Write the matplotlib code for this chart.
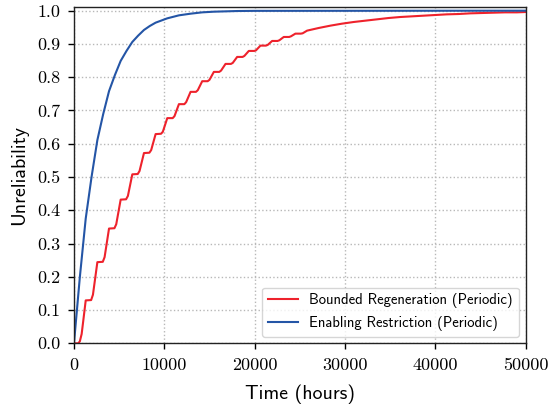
import matplotlib
matplotlib.use('Agg')
import matplotlib.pyplot as plt

# 数据：点（时间 / 不可靠度）
red_t = [0, 480, 650, 850, 1030,
         1300, 1900, 2100, 2590, 3190, 3390, 3880, 4480, 4680,
         5170, 5770, 5970, 6460, 7060, 7260, 7750, 8350, 8550,
         9040, 9640, 9840, 10330, 10930, 11130, 11620, 12220, 12420,
         12910, 13510, 13710, 14200, 14800, 15000, 15490, 16090, 16290,
         16780, 17380, 17580, 18070, 18670, 18870, 19360, 19960, 20160,
         20650, 21250, 21450, 21940, 22540, 22740, 23230, 23830, 24030,
         24520, 25120, 25320, 25810, 27100, 28390, 29680, 30970, 32260,
         33550, 34840, 36130, 37420, 38710, 40000, 41290, 42580, 43870,
         45160, 46450, 47740, 49030, 50000]
red_y = [0.0, 0.0, 0.006, 0.028, 0.068,
         0.129, 0.130, 0.146, 0.244, 0.245, 0.259, 0.345, 0.346, 0.358,
         0.432, 0.433, 0.443, 0.508, 0.509, 0.518, 0.572, 0.573, 0.581,
         0.629, 0.630, 0.636, 0.677, 0.677, 0.683, 0.719, 0.719, 0.725,
         0.756, 0.756, 0.761, 0.788, 0.788, 0.792, 0.816, 0.816, 0.820,
         0.840, 0.840, 0.843, 0.861, 0.861, 0.864, 0.879, 0.879, 0.881,
         0.895, 0.895, 0.897, 0.909, 0.909, 0.911, 0.921, 0.921, 0.923,
         0.931, 0.931, 0.932, 0.940, 0.948, 0.955, 0.961, 0.966, 0.970,
         0.974, 0.978, 0.981, 0.983, 0.985, 0.987, 0.989, 0.990, 0.992,
         0.993, 0.994, 0.995, 0.995, 0.996]

blue_t = [0, 650, 1300, 1945, 2590, 3235, 3880, 4525, 5170, 5815,
          6460, 7105, 7750, 8395, 9040, 10330, 11620, 12910, 14200,
          15490, 16780, 18070, 20000, 50000]
blue_y = [0.0, 0.199, 0.375, 0.500, 0.611, 0.689, 0.758, 0.806, 0.849, 0.879,
          0.906, 0.925, 0.942, 0.954, 0.964, 0.977, 0.986, 0.991, 0.995,
          0.997, 0.998, 0.999, 0.9995, 1.0]

x_ticks = [0, 10000, 20000, 30000, 40000, 50000]
y_ticks = [0.0, 0.1, 0.2, 0.3, 0.4, 0.5, 0.6, 0.7, 0.8, 0.9, 1.0]

plt.rcParams['axes.formatter.use_mathtext'] = True

fig = plt.figure(figsize=(5.5, 4.09), dpi=100)
ax = fig.add_axes([0.1345, 0.1606, 0.821, 0.8214])

ax.plot(red_t, red_y, color='#ee222c', linewidth=1.5, label='Bounded Regeneration (Periodic)')
ax.plot(blue_t, blue_y, color='#2455a6', linewidth=1.5, label='Enabling Restriction (Periodic)')

ax.set_xlim(0, 50000)
ax.set_ylim(0, 1.01)
ax.set_xticks(x_ticks)
ax.set_yticks(y_ticks)
ax.set_xticklabels([str(v) for v in x_ticks])
ax.set_yticklabels([f'{v:.1f}' for v in y_ticks])

ax.grid(True, linestyle=':', color='#b8b8b8', linewidth=1.0)
ax.tick_params(direction='out', length=4.5, width=1.0, labelsize=13,
               labelfontfamily='cmr10', color='black', pad=5.5)
for s in ax.spines.values():
    s.set_linewidth(1.0)
    s.set_color('#222222')

ax.set_xlabel('Time (hours)', fontfamily='cmss10', fontsize=14.3, labelpad=8.5)
ax.set_ylabel('Unreliability', fontfamily='cmss10', fontsize=14.3, labelpad=6)

leg = ax.legend(loc='lower right', prop={'family': 'cmss10', 'size': 10.6},
                fancybox=True, framealpha=0.8, edgecolor='#cccccc',
                borderaxespad=0.45)

fig.savefig('out.png', dpi=100)
